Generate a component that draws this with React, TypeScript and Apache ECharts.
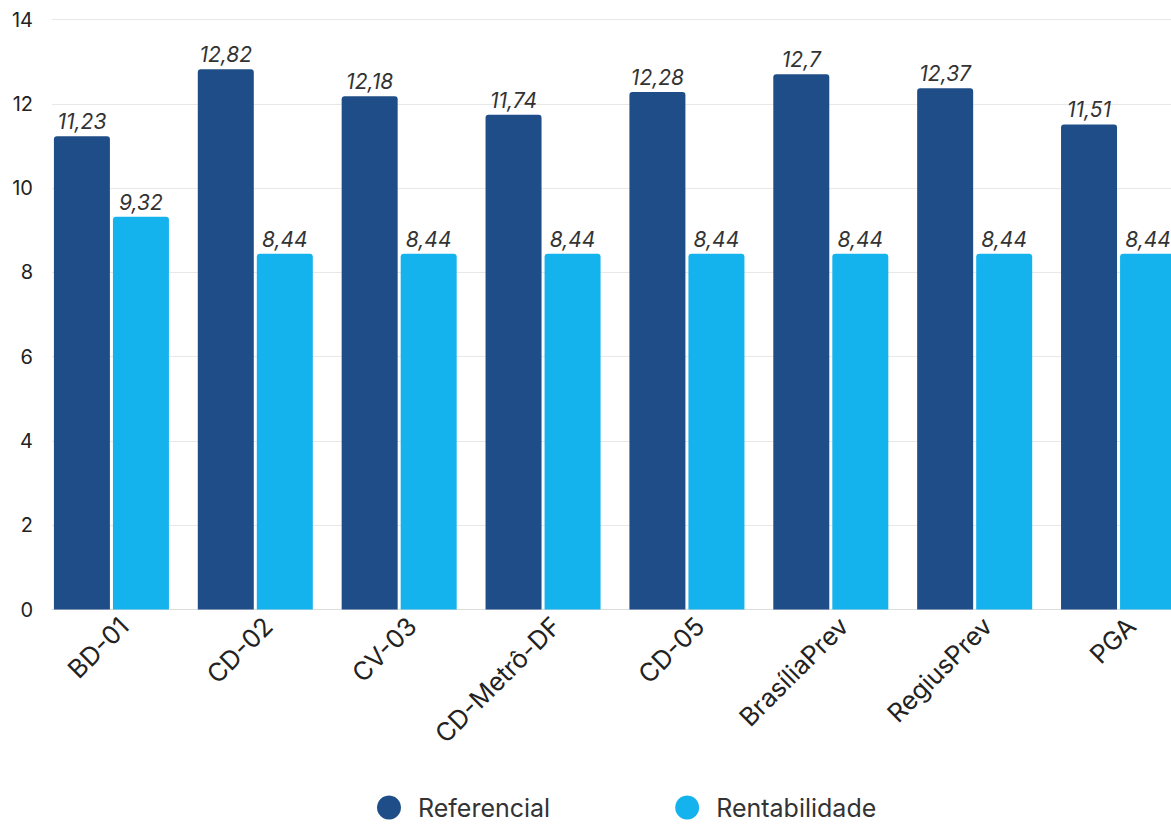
import React, { useEffect, useRef } from "react";
import * as echarts from "echarts";

const categories = ["BD-01", "CD-02", "CV-03", "CD-Metrô-DF", "CD-05", "BrasíliaPrev", "RegiusPrev", "PGA"];
const referencial = [11.23, 12.82, 12.18, 11.74, 12.28, 12.7, 12.37, 11.51];
const rentabilidade = [9.32, 8.44, 8.44, 8.44, 8.44, 8.44, 8.44, 8.44];
const yTicks = [0, 2, 4, 6, 8, 10, 12, 14];

const FONT = "Inter";
const fmt = (p: any) => String(p.value).replace(".", ",");

export default function App() {
  const ref = useRef<HTMLDivElement>(null);
  useEffect(() => {
    if (!ref.current) return;
    const chart = echarts.init(ref.current, undefined, { renderer: "svg" });
    const label = {
      show: true,
      position: "top",
      distance: 4,
      formatter: fmt,
      fontFamily: FONT,
      fontStyle: "italic",
      fontSize: 21,
      color: "#333",
    };
    chart.setOption({
      animation: false,
      textStyle: { fontFamily: FONT },
      grid: { left: 52, right: 17, top: 19.5, bottom: 215.5, containLabel: false },
      legend: {
        data: ["Referencial", "Rentabilidade"],
        bottom: 0,
        left: 372,
        icon: "circle",
        itemWidth: 24,
        itemHeight: 24,
        itemGap: 125,
        textStyle: { fontFamily: FONT, fontSize: 25, color: "#333", padding: [0, 0, 0, 12] },
      },
      xAxis: {
        type: "category",
        data: categories,
        axisTick: { show: false },
        axisLine: { lineStyle: { color: "#dddddd" } },
        axisLabel: { rotate: 45, margin: 12, fontFamily: FONT, fontSize: 25.5, color: "#222", interval: 0 },
      },
      yAxis: {
        type: "value",
        min: yTicks[0],
        max: yTicks[yTicks.length - 1],
        interval: 2,
        axisLine: { show: false },
        axisTick: { show: false },
        axisLabel: { margin: 19, fontFamily: FONT, fontSize: 20, color: "#222" },
        splitLine: { lineStyle: { color: "#e8e8e8" } },
      },
      series: [
        {
          name: "Referencial",
          type: "bar",
          data: referencial,
          barWidth: 56,
          barGap: "5.4%",
          itemStyle: { color: "#1f4d87", borderRadius: [3, 3, 0, 0] },
          label,
        },
        {
          name: "Rentabilidade",
          type: "bar",
          data: rentabilidade,
          barWidth: 56,
          barGap: "5.4%",
          itemStyle: { color: "#14b3ee", borderRadius: [3, 3, 0, 0] },
          label,
        },
        {
          name: "spacer",
          type: "bar",
          data: [],
          barWidth: 22,
          barGap: "5.4%",
          silent: true,
          itemStyle: { color: "transparent" },
        },
      ],
    });
    return () => chart.dispose();
  }, []);
  return (
    <div style={{ position: "fixed", left: 0, top: 0, width: 1171, height: 825, overflow: "hidden", background: "#fff" }}>
      <div ref={ref} style={{ width: 1220, height: 825 }} />
    </div>
  );
}
